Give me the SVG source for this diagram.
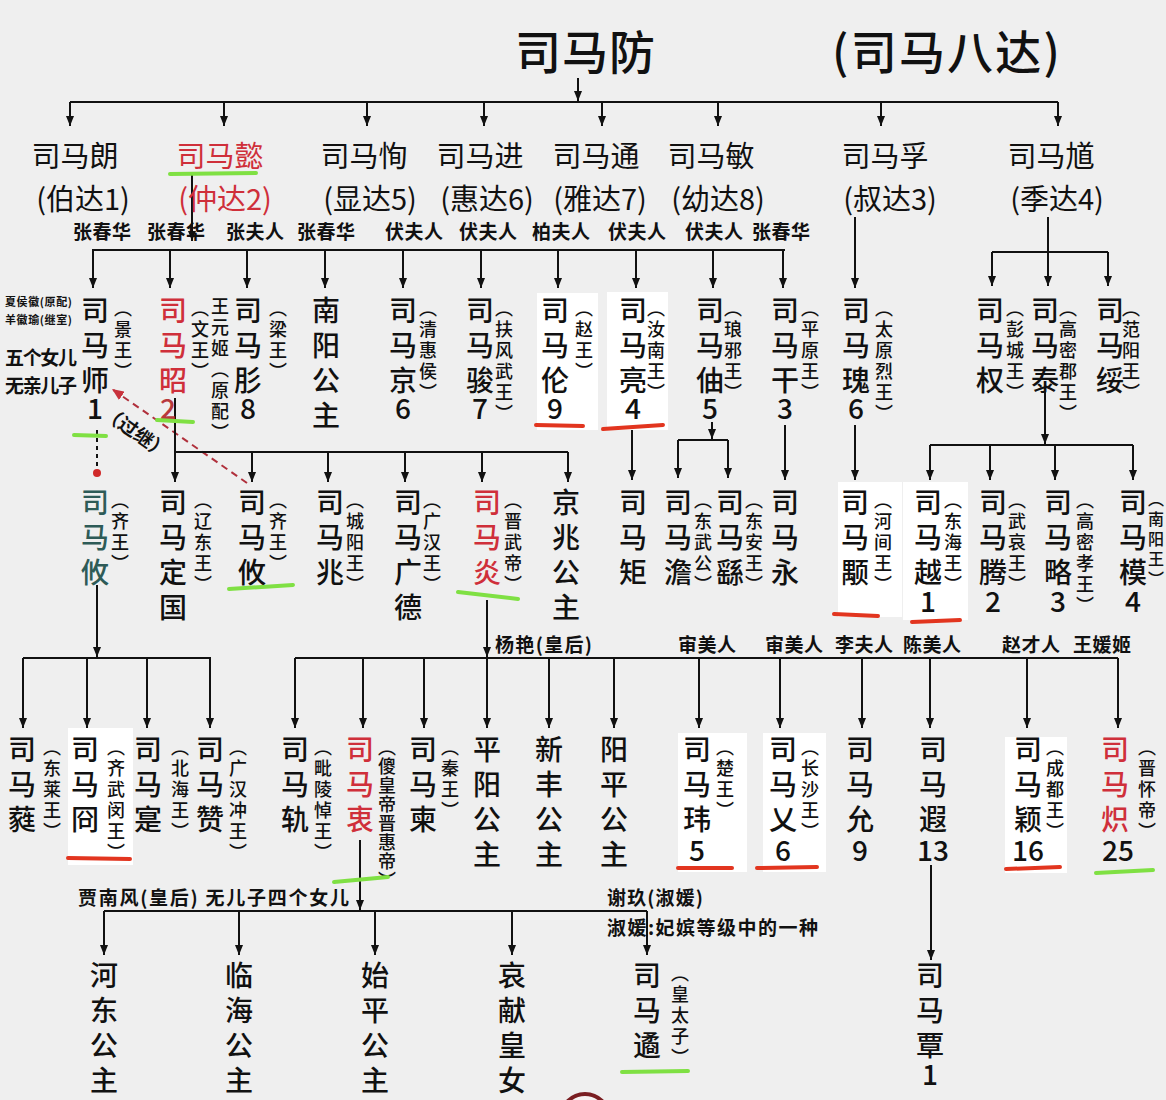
<svg xmlns="http://www.w3.org/2000/svg" width="1166" height="1100" viewBox="0 0 1166 1100">
<defs>
<marker id="ah" viewBox="0 0 10 8" refX="10" refY="4" markerWidth="10" markerHeight="8" markerUnits="userSpaceOnUse" orient="auto"><path d="M0,0 L10,4 L0,8 z" fill="#111"/></marker>
<marker id="ahr" viewBox="0 0 12 10" refX="12" refY="5" markerWidth="12" markerHeight="10" markerUnits="userSpaceOnUse" orient="auto"><path d="M0,0 L12,5 L0,10 z" fill="#c8323c"/></marker>
</defs>
<style>
text{font-family:"Noto Sans CJK SC","Noto Sans CJK JP",sans-serif;fill:#111}
.t{font-size:46px;font-weight:500}
.g{font-size:29px;font-weight:400;text-anchor:middle}
.v{font-size:28px;font-weight:500;writing-mode:vertical-rl;letter-spacing:7px}
.p{font-size:18px;font-weight:500;writing-mode:vertical-rl;letter-spacing:3px}
.n{font-size:28px;font-weight:500;text-anchor:middle}
.w{font-size:19px;font-weight:700}
.s{font-size:11px;font-weight:700}
.red{fill:#cf2f3a}
.teal{fill:#2e5b57}
.ln{stroke:#111;stroke-width:2;fill:none}
.a{marker-end:url(#ah)}
.gu{stroke:#7fe043;stroke-width:4;stroke-linecap:round;fill:none}
.ru{stroke:#e2351f;stroke-width:4;stroke-linecap:round;fill:none}
.box{fill:#ffffff}
</style>
<rect width="1166" height="1100" fill="#efefef"/>

<!-- white highlight boxes -->
<g id="boxes">
<rect class="box" x="537" y="293" width="61" height="137"/>
<rect class="box" x="607" y="292" width="61" height="138"/>
<rect class="box" x="838" y="482" width="64" height="135"/>
<rect class="box" x="903" y="482" width="65" height="138"/>
<rect class="box" x="68" y="728" width="65" height="137"/>
<rect class="box" x="678" y="733" width="69" height="139"/>
<rect class="box" x="763" y="733" width="63" height="139"/>
<rect class="box" x="1005" y="737" width="62" height="136"/>
</g>

<!-- connectors -->
<g id="connectors">
<path class="ln a" d="M578,78 V101"/>
<path class="ln" d="M70,102 H1058"/>
<path class="ln a" d="M70,102 V126"/><path class="ln a" d="M224,102 V126"/><path class="ln a" d="M367,102 V126"/><path class="ln a" d="M484,102 V126"/>
<path class="ln a" d="M602,102 V126"/><path class="ln a" d="M718,102 V126"/><path class="ln a" d="M881,102 V126"/><path class="ln a" d="M1058,102 V126"/>

<path class="ln a" d="M192,172 V241"/>
<path class="ln" d="M92,250 H785"/>
<path class="ln a" d="M93,250 V288"/><path class="ln a" d="M170,250 V288"/><path class="ln a" d="M247,250 V288"/><path class="ln a" d="M325,250 V288"/><path class="ln a" d="M403,250 V288"/>
<path class="ln a" d="M481,250 V288"/><path class="ln a" d="M558,250 V288"/><path class="ln a" d="M636,250 V288"/><path class="ln a" d="M713,250 V288"/><path class="ln a" d="M783,250 V288"/>

<path class="ln a" d="M855,217 V288"/>
<path class="ln" d="M1048,217 V252 M992,252 H1108"/>
<path class="ln a" d="M992,252 V286"/><path class="ln a" d="M1048,252 V286"/><path class="ln a" d="M1108,252 V286"/>

<path class="ln" d="M97,430 V468" stroke-dasharray="4,4"/>
<circle cx="97" cy="473" r="4" fill="#d02a2a"/>
<path d="M247,483 L112,389" stroke="#b0303c" stroke-width="2" stroke-dasharray="7,5" fill="none" marker-end="url(#ahr)"/>

<path class="ln" d="M175,398 V452 H568"/>
<path class="ln a" d="M175,452 V482"/><path class="ln a" d="M252,452 V482"/><path class="ln a" d="M328,452 V482"/><path class="ln a" d="M405,452 V482"/><path class="ln a" d="M482,452 V482"/><path class="ln a" d="M568,452 V482"/>
<path class="ln a" d="M632,430 V480"/>
<path class="ln a" d="M712,422 V439"/>
<path class="ln" d="M678,440 H728"/>
<path class="ln a" d="M678,440 V478"/><path class="ln a" d="M728,440 V478"/>
<path class="ln a" d="M785,425 V480"/>
<path class="ln a" d="M855,425 V480"/>
<path class="ln a" d="M1045,392 V444"/>
<path class="ln" d="M930,445 H1133"/>
<path class="ln a" d="M930,445 V480"/><path class="ln a" d="M990,445 V480"/><path class="ln a" d="M1055,445 V480"/><path class="ln a" d="M1133,445 V480"/>

<path class="ln a" d="M97,585 V657"/>
<path class="ln" d="M23,658 H211"/>
<path class="ln a" d="M23,658 V728"/><path class="ln a" d="M87,658 V728"/><path class="ln a" d="M147,658 V728"/><path class="ln a" d="M210,658 V728"/>
<path class="ln a" d="M487,600 V657"/>
<path class="ln" d="M295,658 H1118"/>
<path class="ln a" d="M295,658 V728"/><path class="ln a" d="M363,658 V728"/><path class="ln a" d="M424,658 V728"/><path class="ln a" d="M487,658 V728"/>
<path class="ln a" d="M549,658 V728"/><path class="ln a" d="M614,658 V728"/><path class="ln a" d="M699,658 V728"/><path class="ln a" d="M780,658 V728"/>
<path class="ln a" d="M862,658 V728"/><path class="ln a" d="M930,658 V728"/><path class="ln a" d="M1027,658 V728"/><path class="ln a" d="M1118,658 V728"/>

<path class="ln a" d="M360,840 V910"/>
<path class="ln" d="M104,911 H647"/>
<path class="ln a" d="M104,911 V955"/><path class="ln a" d="M239,911 V955"/><path class="ln a" d="M375,911 V955"/><path class="ln a" d="M512,911 V955"/><path class="ln a" d="M647,911 V955"/>
<path class="ln a" d="M931,865 V960"/>
</g>

<!-- top generation -->
<g id="title">
<text class="t" x="515" y="69" textLength="140">司马防</text>
<text class="t" x="832" y="69" textLength="228">(司马八达)</text>
</g>
<g id="gen1">
<text class="g" x="75" y="167">司马朗</text><text class="g" x="83" y="210">(伯达1)</text>
<text class="g red" x="220" y="167">司马懿</text><text class="g red" x="225" y="210">(仲达2)</text>
<text class="g" x="364" y="167">司马恂</text><text class="g" x="370" y="210">(显达5)</text>
<text class="g" x="480" y="167">司马进</text><text class="g" x="487" y="210">(惠达6)</text>
<text class="g" x="596" y="167">司马通</text><text class="g" x="600" y="210">(雅达7)</text>
<text class="g" x="711" y="167">司马敏</text><text class="g" x="718" y="210">(幼达8)</text>
<text class="g" x="885" y="167">司马孚</text><text class="g" x="890" y="210">(叔达3)</text>
<text class="g" x="1051" y="167">司马馗</text><text class="g" x="1057" y="210">(季达4)</text>
</g>
<g id="wives1">
<text class="w" x="73" y="239" textLength="58">张春华</text>
<text class="w" x="147" y="239" textLength="58">张春华</text>
<text class="w" x="226" y="239" textLength="58">张夫人</text>
<text class="w" x="297" y="239" textLength="58">张春华</text>
<text class="w" x="385" y="239" textLength="58">伏夫人</text>
<text class="w" x="459" y="239" textLength="58">伏夫人</text>
<text class="w" x="532" y="239" textLength="58">柏夫人</text>
<text class="w" x="608" y="239" textLength="58">伏夫人</text>
<text class="w" x="685" y="239" textLength="58">伏夫人</text>
<text class="w" x="752" y="239" textLength="58">张春华</text>
</g>

<!-- generation 2 -->
<g id="notes">
<text class="s" x="5" y="306" textLength="67">夏侯徽(原配)</text>
<text class="s" x="5" y="324" textLength="67">羊徽瑜(继室)</text>
<text class="w" x="5" y="365" textLength="72">五个女儿</text>
<text class="w" x="5" y="393" textLength="72">无亲儿子</text>
<text x="0" y="0" font-size="19" font-weight="700" text-anchor="middle" transform="translate(132,438) rotate(35)">（过继）</text>
</g>
<g id="g2-shi"><text class="v" x="95" y="296">司马师</text><text class="n" x="95" y="419">1</text><text class="p" x="123" y="299">（景王）</text></g>
<g id="g2-zhao"><text class="v red" x="173" y="296">司马昭</text><text class="n" x="168" y="419" style="fill:#b8393c">2</text><text class="p" x="200" y="299">（文王）</text><text class="p" x="220" y="297">王元姬（原配）</text></g>
<g id="g2-rong"><text class="v" x="248" y="296">司马肜</text><text class="n" x="248" y="419">8</text><text class="p" x="278" y="299">（梁王）</text></g>
<g id="g2-nanyang"><text class="v" x="326" y="296">南阳公主</text></g>
<g id="g2-jing"><text class="v" x="403" y="296">司马京</text><text class="n" x="403" y="419">6</text><text class="p" x="428" y="299">（清惠侯）</text></g>
<g id="g2-jun"><text class="v" x="480" y="296">司马骏</text><text class="n" x="480" y="419">7</text><text class="p" x="504" y="299">（扶风武王）</text></g>
<g id="g2-lun"><text class="v" x="555" y="296">司马伦</text><text class="n" x="555" y="419">9</text><text class="p" x="584" y="299">（赵王）</text></g>
<g id="g2-liang"><text class="v" x="633" y="296">司马亮</text><text class="n" x="633" y="419">4</text><text class="p" x="656" y="299">（汝南王）</text></g>
<g id="g2-zhou"><text class="v" x="710" y="296">司马伷</text><text class="n" x="710" y="419">5</text><text class="p" x="733" y="299">（琅邪王）</text></g>
<g id="g2-gan"><text class="v" x="785" y="296">司马干</text><text class="n" x="785" y="419">3</text><text class="p" x="810" y="299">（平原王）</text></g>
<g id="g2-gui"><text class="v" x="856" y="296">司马瑰</text><text class="n" x="856" y="419">6</text><text class="p" x="884" y="299">（太原烈王）</text></g>
<g id="g2-quan"><text class="v" x="990" y="296">司马权</text><text class="p" x="1015" y="299">（彭城王）</text></g>
<g id="g2-tai"><text class="v" x="1045" y="296">司马泰</text><text class="p" x="1068" y="299">（高密郡王）</text></g>
<g id="g2-sui"><text class="v" x="1110" y="296">司马绥</text><text class="p" x="1131" y="299">（范阳王）</text></g>

<!-- generation 3 -->
<g id="g3-you1"><text class="v teal" x="95" y="488">司马攸</text><text class="p" x="120" y="491">（齐王）</text></g>
<g id="g3-dingguo"><text class="v" x="173" y="488">司马定国</text><text class="p" x="203" y="491">（辽东王）</text></g>
<g id="g3-you2"><text class="v" x="252" y="488">司马攸</text><text class="p" x="278" y="491">（齐王）</text></g>
<g id="g3-zhao"><text class="v" x="330" y="488">司马兆</text><text class="p" x="355" y="491">（城阳王）</text></g>
<g id="g3-guangde"><text class="v" x="408" y="488">司马广德</text><text class="p" x="432" y="491">（广汉王）</text></g>
<g id="g3-yan"><text class="v red" x="487" y="488">司马炎</text><text class="p" x="513" y="491">（晋武帝）</text></g>
<g id="g3-jingzhao"><text class="v" x="566" y="488">京兆公主</text></g>
<g id="g3-ju"><text class="v" x="633" y="488">司马矩</text></g>
<g id="g3-dan"><text class="v" x="678" y="488">司马澹</text><text class="p" x="703" y="491">（东武公）</text></g>
<g id="g3-yao"><text class="v" x="730" y="488">司马繇</text><text class="p" x="754" y="491">（东安王）</text></g>
<g id="g3-yong"><text class="v" x="785" y="488">司马永</text></g>
<g id="g3-yong2"><text class="v" x="855" y="488">司马颙</text><text class="p" x="883" y="491">（河间王）</text></g>
<g id="g3-yue"><text class="v" x="928" y="488">司马越</text><text class="n" x="928" y="612">1</text><text class="p" x="953" y="491">（东海王）</text></g>
<g id="g3-teng"><text class="v" x="993" y="488">司马腾</text><text class="n" x="993" y="612">2</text><text class="p" x="1017" y="491">（武哀王）</text></g>
<g id="g3-lue"><text class="v" x="1058" y="488">司马略</text><text class="n" x="1058" y="612">3</text><text class="p" x="1085" y="491">（高密孝王）</text></g>
<g id="g3-mo"><text class="v" x="1133" y="488">司马模</text><text class="n" x="1133" y="612">4</text><text class="p" x="1156" y="491" style="font-size:16px;letter-spacing:4px">（南阳王）</text></g>

<!-- generation 4 labels -->
<g id="wives3">
<text class="w" x="495" y="652" textLength="97">杨艳(皇后)</text>
<text class="w" x="678" y="652" textLength="58">审美人</text>
<text class="w" x="765" y="652" textLength="58">审美人</text>
<text class="w" x="835" y="652" textLength="58">李夫人</text>
<text class="w" x="903" y="652" textLength="58">陈美人</text>
<text class="w" x="1002" y="652" textLength="58">赵才人</text>
<text class="w" x="1073" y="652" textLength="58">王媛姬</text>
</g>
<g id="g4-rui"><text class="v" x="22" y="735">司马蕤</text><text class="p" x="52" y="738">（东莱王）</text></g>
<g id="g4-jiong"><text class="v" x="85" y="735">司马冏</text><text class="p" x="116" y="738">（齐武闵王）</text></g>
<g id="g4-shi"><text class="v" x="148" y="735">司马寔</text><text class="p" x="180" y="738">（北海王）</text></g>
<g id="g4-zan"><text class="v" x="210" y="735">司马赞</text><text class="p" x="238" y="738">（广汉冲王）</text></g>
<g id="g4-gui"><text class="v" x="295" y="735">司马轨</text><text class="p" x="323" y="738">（毗陵悼王）</text></g>
<g id="g4-zhong"><text class="v red" x="360" y="735">司马衷</text><text class="p" x="387" y="738" style="letter-spacing:1px">（傻皇帝晋惠帝）</text></g>
<g id="g4-jian"><text class="v" x="423" y="735">司马柬</text><text class="p" x="450" y="738">（秦王）</text></g>
<g id="g4-pingyang"><text class="v" x="487" y="735">平阳公主</text></g>
<g id="g4-xinfeng"><text class="v" x="549" y="735">新丰公主</text></g>
<g id="g4-yangping"><text class="v" x="614" y="735">阳平公主</text></g>
<g id="g4-wei"><text class="v" x="697" y="735">司马玮</text><text class="n" x="697" y="861">5</text><text class="p" x="725" y="738">（楚王）</text></g>
<g id="g4-yi"><text class="v" x="783" y="735">司马乂</text><text class="n" x="783" y="861">6</text><text class="p" x="810" y="738">（长沙王）</text></g>
<g id="g4-yun"><text class="v" x="860" y="735">司马允</text><text class="n" x="860" y="861">9</text></g>
<g id="g4-xia"><text class="v" x="933" y="735">司马遐</text><text class="n" x="933" y="861">13</text></g>
<g id="g4-ying"><text class="v" x="1028" y="735">司马颖</text><text class="n" x="1028" y="861">16</text><text class="p" x="1055" y="738">（成都王）</text></g>
<g id="g4-chi"><text class="v red" x="1115" y="735">司马炽</text><text class="n" x="1118" y="861">25</text><text class="p" x="1147" y="738">（晋怀帝）</text></g>

<!-- generation 5 -->
<g id="wives4">
<text class="w" x="78" y="905" textLength="271">贾南风(皇后) 无儿子四个女儿</text>
<text class="w" x="607" y="905" textLength="96">谢玖(淑媛)</text>
<text class="w" x="607" y="935" textLength="211">淑媛:妃嫔等级中的一种</text>
</g>
<g id="g5-hedong"><text class="v" x="104" y="961">河东公主</text></g>
<g id="g5-linhai"><text class="v" x="239" y="961">临海公主</text></g>
<g id="g5-shiping"><text class="v" x="375" y="961">始平公主</text></g>
<g id="g5-aixian"><text class="v" x="512" y="961">哀献皇女</text></g>
<g id="g5-yu"><text class="v" x="647" y="961">司马遹</text><text class="p" x="680" y="964">（皇太子）</text></g>
<g id="g5-tan"><text class="v" x="930" y="961">司马覃</text><text class="n" x="930" y="1085">1</text></g>

<!-- highlight underlines -->
<g id="underlines">
<path class="gu" d="M170,174 L256,173"/>
<path class="gu" d="M74,435 L106,436"/>
<path class="gu" d="M157,420 L193,422"/>
<path class="gu" d="M229,589 L293,585"/>
<path class="gu" d="M458,592 L518,599"/>
<path class="gu" d="M334,882 L388,877"/>
<path class="gu" d="M1096,873 L1153,870"/>
<path class="gu" d="M622,1072 L688,1071"/>
<path class="ru" d="M536,425 L583,426"/>
<path class="ru" d="M603,429 L663,425"/>
<path class="ru" d="M834,614 L878,616"/>
<path class="ru" d="M912,622 L960,620"/>
<path class="ru" d="M68,858 L130,859"/>
<path class="ru" d="M678,868 L732,868"/>
<path class="ru" d="M757,868 L817,867"/>
<path class="ru" d="M1006,869 L1060,867"/>
</g>
<circle cx="585" cy="1118" r="24" fill="#f6f2f2" stroke="#7a1e22" stroke-width="4"/>
</svg>
